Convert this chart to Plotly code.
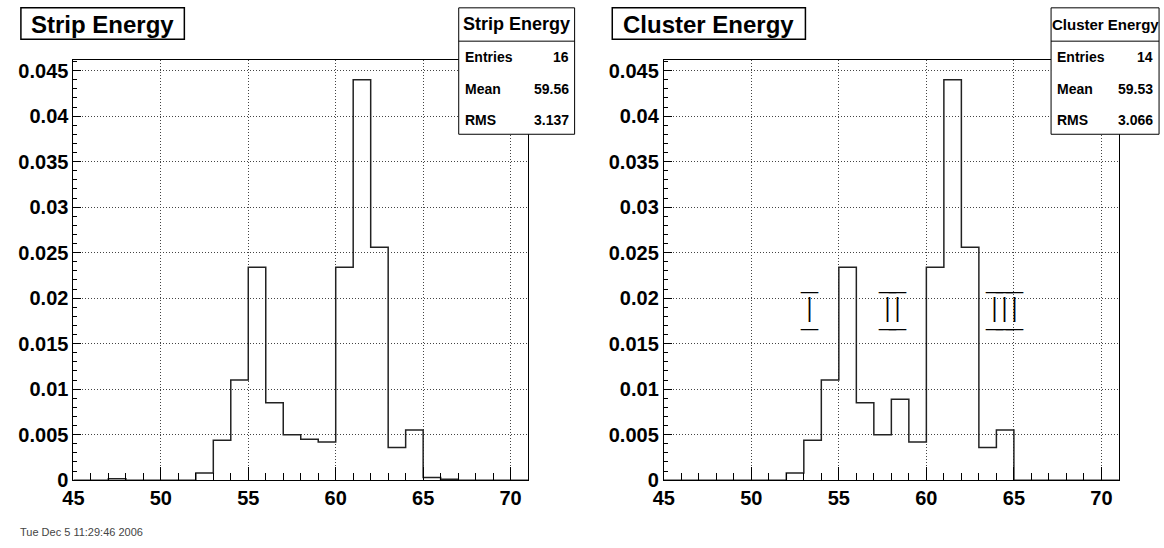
import plotly.graph_objects as go

# ---------------- data ----------------
bin_edges_low = [45, 46, 47, 48, 49, 50, 51, 52, 53, 54, 55, 56, 57,
                 58, 59, 60, 61, 62, 63, 64, 65, 66, 67, 68, 69, 70]
x_upper = 71

strip_values = [0, 0, 0.00015, 0, 0, 0, 0, 0.0008, 0.0044, 0.0110, 0.0234, 0.0085, 0.0050,
                0.0045, 0.0042, 0.0234, 0.0440, 0.0256, 0.0036, 0.0055, 0.0003, 0.0001, 0, 0, 0, 0]
cluster_values = [0, 0, 0, 0, 0, 0, 0, 0.0008, 0.0044, 0.0110, 0.0234, 0.0085, 0.0050,
                  0.0089, 0.0042, 0.0234, 0.0440, 0.0256, 0.0036, 0.0055, 0, 0, 0, 0, 0, 0]

strip_stats = {"title": "Strip Energy", "Entries": "16", "Mean": "59.56", "RMS": "3.137"}
cluster_stats = {"title": "Cluster Energy", "Entries": "14", "Mean": "59.53", "RMS": "3.066"}

# Roman numerals written with combining overline + low line (serif bars)
BAR = "\u0305\u0332"
roman_labels = ["I" + BAR, "I" + BAR + "I" + BAR, "I" + BAR + "I" + BAR + "I" + BAR]
roman_x = [53.3, 58.05, 64.45]
roman_y = [0.0187, 0.0186, 0.0186]

y_max = 0.0462
date_text = "Tue Dec 5 11:29:46 2006"

# ---------------- layout helpers ----------------
W, H = 1164, 548


def px(x):
    return x / W


def py(y):
    return 1 - y / H


FONT = "Liberation Sans"

fig = go.Figure()

for vals, xa, ya in [(strip_values, "x", "y"), (cluster_values, "x2", "y2")]:
    fig.add_trace(go.Scatter(
        x=bin_edges_low + [x_upper], y=vals + [vals[-1]],
        mode="lines", line=dict(shape="hv", color="#222", width=1.5),
        xaxis=xa, yaxis=ya, showlegend=False, hoverinfo="skip"))

xaxis_common = dict(
    range=[45, x_upper], tick0=45, dtick=5, ticks="inside", ticklen=13, tickwidth=1,
    tickcolor="black", showline=True, linecolor="black", linewidth=1, mirror=True,
    showgrid=True, gridcolor="#444", griddash="1px,2px", gridwidth=1, zeroline=False,
    tickfont=dict(family=FONT, size=20, color="black", weight="bold"),
    minor=dict(dtick=1, tick0=45, ticks="inside", ticklen=7, tickcolor="black", showgrid=False),
    fixedrange=True,
)
yaxis_common = dict(
    range=[0, y_max], tick0=0, dtick=0.005, ticks="inside", ticklen=8, tickwidth=1,
    tickcolor="black", showline=True, linecolor="black", linewidth=1, mirror=True,
    showgrid=True, gridcolor="#444", griddash="1px,2px", gridwidth=1, zeroline=False,
    tickfont=dict(family=FONT, size=20, color="black", weight="bold"),
    minor=dict(dtick=0.001, tick0=0, ticks="inside", ticklen=4, tickcolor="black", showgrid=False),
    fixedrange=True,
)

y_dom = [py(490), py(61)]
fig.update_layout(
    width=W, height=H, margin=dict(l=0, r=0, t=0, b=0),
    paper_bgcolor="white", plot_bgcolor="white",
    xaxis=dict(domain=[px(63), px(522)], anchor="y", **xaxis_common),
    yaxis=dict(domain=y_dom, anchor="x", **yaxis_common),
    xaxis2=dict(domain=[px(659), px(1118.5)], anchor="y2", **xaxis_common),
    yaxis2=dict(domain=y_dom, anchor="x2", **yaxis_common),
)

shapes = []
annotations = []

# title boxes
for (x0, x1, title) in [(10, 175, strip_stats["title"]), (607, 802, cluster_stats["title"])]:
    shapes.append(dict(type="rect", xref="paper", yref="paper", x0=px(x0), x1=px(x1),
                       y0=py(40), y1=py(8), line=dict(color="black", width=1.5),
                       fillcolor="white", layer="above"))
    annotations.append(dict(xref="paper", yref="paper", x=px((x0 + x1) / 2), y=py(24.5),
                            text=title, showarrow=False, xanchor="center", yanchor="middle",
                            font=dict(family=FONT, size=24, color="black", weight="bold")))

# stats boxes
for stats, x0, x1, hsize in [(strip_stats, 452, 569, 18), (cluster_stats, 1050, 1159, 15)]:
    shapes.append(dict(type="rect", xref="paper", yref="paper", x0=px(x0), x1=px(x1),
                       y0=py(137), y1=py(8), line=dict(color="black", width=1),
                       fillcolor="white", layer="above"))
    shapes.append(dict(type="line", xref="paper", yref="paper", x0=px(x0), x1=px(x1),
                       y0=py(42), y1=py(42), line=dict(color="black", width=1), layer="above"))
    annotations.append(dict(xref="paper", yref="paper", x=px((x0 + x1) / 2), y=py(25),
                            text=stats["title"], showarrow=False, xanchor="center", yanchor="middle",
                            font=dict(family=FONT, size=hsize, color="black", weight="bold")))
    for key, yy in [("Entries", 58), ("Mean", 90.5), ("RMS", 122.5)]:
        annotations.append(dict(xref="paper", yref="paper", x=px(x0 + 4), y=py(yy),
                                text=key, showarrow=False, xanchor="left", yanchor="middle",
                                font=dict(family=FONT, size=14, color="black", weight="bold")))
        annotations.append(dict(xref="paper", yref="paper", x=px(x1 - 4), y=py(yy),
                                text=stats[key], showarrow=False, xanchor="right", yanchor="middle",
                                font=dict(family=FONT, size=14, color="black", weight="bold")))

# roman numeral labels in the right pad
for t, xx, yy in zip(roman_labels, roman_x, roman_y):
    annotations.append(dict(xref="x2", yref="y2", x=xx, y=yy, text=t, showarrow=False,
                            xanchor="center", yanchor="middle",
                            font=dict(family="DejaVu Sans", size=34, color="black", weight=200)))

# date stamp
annotations.append(dict(xref="paper", yref="paper", x=px(7), y=py(543), text=date_text,
                        showarrow=False, xanchor="left", yanchor="middle",
                        font=dict(family=FONT, size=11, color="#444")))

fig.update_layout(shapes=shapes, annotations=annotations)
fig.write_html("out.html")
